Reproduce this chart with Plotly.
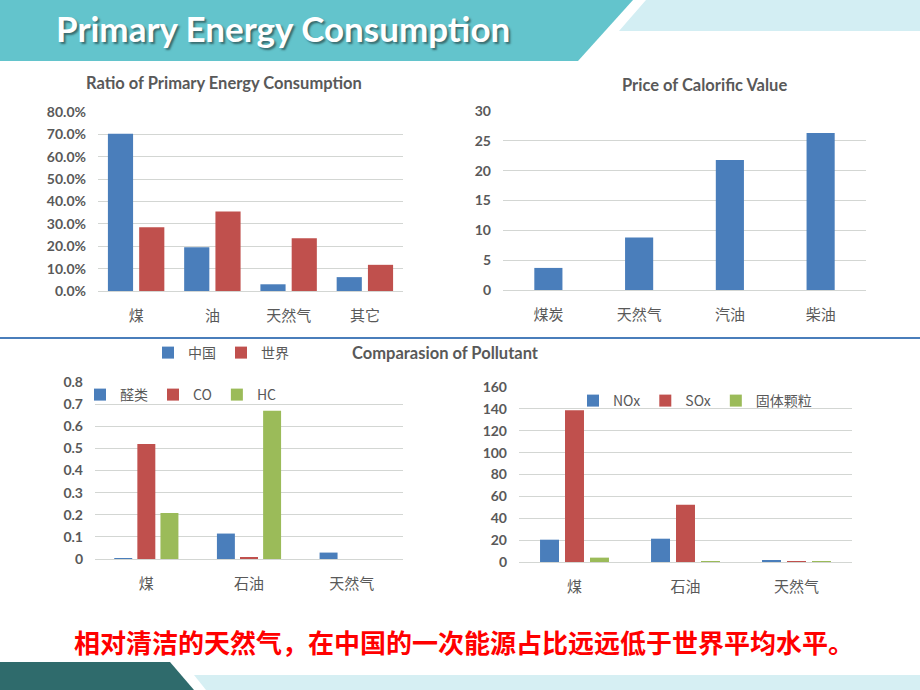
import plotly.graph_objects as go

W, H = 920, 690

# ---------------- data ----------------
ratio_categories = ["煤", "油", "天然气", "其它"]
ratio_china = [0.703, 0.195, 0.030, 0.062]
ratio_world = [0.285, 0.355, 0.236, 0.117]
ratio_ticks = [0, 0.1, 0.2, 0.3, 0.4, 0.5, 0.6, 0.7, 0.8]

price_categories = ["煤炭", "天然气", "汽油", "柴油"]
price_values = [3.7, 8.8, 21.8, 26.3]
price_ticks = [0, 5, 10, 15, 20, 25, 30]

pollA_categories = ["煤", "石油", "天然气"]
pollA_aldehyde = [0.003, 0.115, 0.029]
pollA_co = [0.52, 0.006, 0.0]
pollA_hc = [0.208, 0.67, 0.0]
pollA_ticks = [0, 0.1, 0.2, 0.3, 0.4, 0.5, 0.6, 0.7, 0.8]

pollB_categories = ["煤", "石油", "天然气"]
pollB_nox = [20.4, 21.3, 1.2]
pollB_sox = [138.7, 52.4, 0.1]
pollB_pm = [4.0, 0.5, 0.1]
pollB_ticks = [0, 20, 40, 60, 80, 100, 120, 140, 160]

# ---------------- style ----------------
BLUE = "#4A7EBB"
RED = "#C0504D"
GREEN = "#9BBB59"
GRID = "#D3D6D3"
TXT = "#595959"
LAT = "Lato, Carlito, 'Open Sans', sans-serif"
CJK = "'Noto Sans CJK SC', sans-serif"


def px(x):
    return x / W


def py(y):
    return 1 - y / H


fig = go.Figure()


def bars(cats, vals, name, color, ax, leg, width, offset, show=True):
    fig.add_trace(go.Bar(x=cats, y=vals, name=name, marker_color=color,
                         marker_line_width=0, width=width, offset=offset,
                         xaxis="x" + ax, yaxis="y" + ax, legend=leg,
                         showlegend=show, hoverinfo="x+y+name"))


# chart 1
bars(ratio_categories, ratio_china, "中国", BLUE, "", "legend", 0.33, -0.37)
bars(ratio_categories, ratio_world, "世界", RED, "", "legend", 0.33, 0.04)
# chart 2
bars(price_categories, price_values, "价格", BLUE, "2", "legend", 0.31, -0.155, show=False)
# chart 3
bars(pollA_categories, pollA_aldehyde, "醛类", BLUE, "3", "legend2", 0.175, -0.3125)
bars(pollA_categories, pollA_co, "CO", RED, "3", "legend2", 0.175, -0.0875)
bars(pollA_categories, pollA_hc, "HC", GREEN, "3", "legend2", 0.175, 0.1375)
# chart 4
bars(pollB_categories, pollB_nox, "NOx", BLUE, "4", "legend3", 0.171, -0.3105)
bars(pollB_categories, pollB_sox, "SOx", RED, "4", "legend3", 0.171, -0.0855)
bars(pollB_categories, pollB_pm, "固体颗粒", GREEN, "4", "legend3", 0.171, 0.1395)


def xaxis(x0, x1, anchor):
    return dict(domain=[px(x0), px(x1)], anchor=anchor, type="category",
                showgrid=False, showline=False, zeroline=False, ticks="",
                ticklabelstandoff=14, fixedrange=True, automargin=False,
                tickfont=dict(family=CJK, size=15, color=TXT))


def yaxis(y0, y1, anchor, rng, ticks, fmt=None):
    d = dict(domain=[py(y1), py(y0)], anchor=anchor, range=rng,
             tickvals=ticks, showgrid=True, gridcolor=GRID, gridwidth=1,
             zeroline=True, zerolinecolor=GRID, zerolinewidth=1,
             showline=False, ticks="", ticklabelstandoff=11, automargin=False,
             fixedrange=True,
             tickfont=dict(family=LAT, size=14, color=TXT, weight="bold"))
    if fmt:
        d["tickformat"] = fmt
    return d


legend_common = dict(orientation="h", bgcolor="rgba(0,0,0,0)", itemwidth=30,
                     xanchor="left", yanchor="middle", traceorder="normal",
                     tracegroupgap=0, itemclick=False, itemdoubleclick=False)

fig.update_layout(
    width=W, height=H, margin=dict(l=0, r=0, t=0, b=0, autoexpand=False),
    paper_bgcolor="white", plot_bgcolor="white",
    barmode="overlay",
    xaxis=xaxis(98, 403, "y"),
    yaxis=yaxis(112, 291, "x", [0, 0.8], ratio_ticks, ".1%"),
    xaxis2=xaxis(503, 866, "y2"),
    yaxis2=yaxis(111, 290, "x2", [0, 30], price_ticks),
    xaxis3=xaxis(95, 403, "y3"),
    yaxis3=yaxis(382, 559, "x3", [0, 0.8], pollA_ticks),
    xaxis4=xaxis(519, 852, "y4"),
    yaxis4=yaxis(387, 562, "x4", [0, 160], pollB_ticks),
    legend=dict(**legend_common, x=px(148), y=py(353),
                font=dict(family=CJK, size=14, color=TXT)),
    legend2=dict(**legend_common, x=px(80), y=py(395),
                 font=dict(family=CJK, size=14, color=TXT)),
    legend3=dict(**legend_common, x=px(573), y=py(401),
                 font=dict(family=CJK, size=14, color=TXT)),
    showlegend=True,
)


# ---------------- decorations ----------------
def poly(points, color):
    path = "M " + " L ".join(f"{px(x)},{py(y)}" for x, y in points) + " Z"
    fig.add_shape(type="path", path=path, xref="paper", yref="paper",
                  fillcolor=color, line=dict(width=0), layer="below")


poly([(0, 0), (633, 0), (578, 61), (0, 61)], "#63C4CC")
poly([(646, 0), (920, 0), (920, 31), (619, 31)], "#D3EEF3")
poly([(0, 662), (170, 662), (194, 690), (0, 690)], "#2F6B6C")
poly([(194, 675), (920, 675), (920, 690), (206, 690)], "#D6EFF3")

fig.add_shape(type="line", xref="paper", yref="paper", x0=0, x1=1,
              y0=py(338), y1=py(338), line=dict(color="#4A7EBB", width=2))


def label(text, x, y, size, color, family=LAT, anchor="center", weight="normal", shadow=None):
    font = dict(family=family, size=size, color=color, weight=weight)
    if shadow:
        font["shadow"] = shadow
    fig.add_annotation(text=text, x=px(x), y=py(y), xref="paper", yref="paper",
                       xanchor=anchor, yanchor="middle", showarrow=False, font=font)


# header title with shadow
label("Primary Energy Consumption", 283, 28, 35, "white", weight="bold",
      shadow="2px 2px 2px rgba(30,50,50,0.6)")

# chart titles
label("Ratio of Primary Energy Consumption", 224, 83, 16.5, TXT, weight="bold")
label("Price of Calorific Value", 704, 85, 16.5, TXT, weight="bold")
label("Comparasion of Pollutant", 445, 353, 16.5, TXT, weight="bold")

# bottom note
label("相对清洁的天然气，在中国的一次能源占比远远低于世界平均水平。", 72, 641, 26,
      "#FF0000", family=CJK, anchor="left", weight="bold")

fig.write_html("out.html", config={"displayModeBar": False})

# remove default page margins so the figure sits at the window origin
with open("out.html", encoding="utf-8") as f:
    html = f.read()
html = html.replace("<head>", "<head><style>html,body{margin:0;padding:0;overflow:hidden;}</style>", 1)
with open("out.html", "w", encoding="utf-8") as f:
    f.write(html)
